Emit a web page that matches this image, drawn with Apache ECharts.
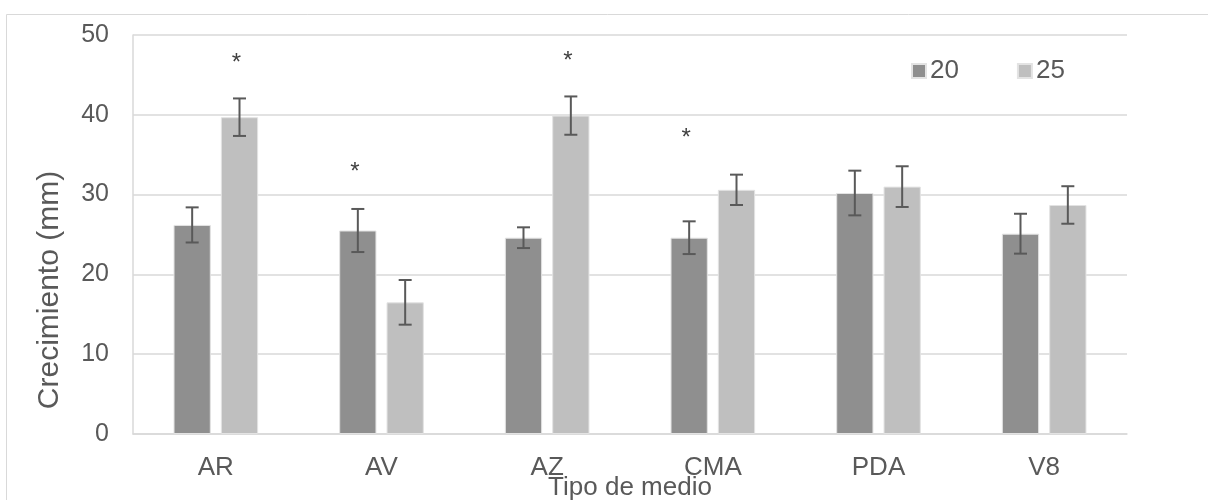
<!DOCTYPE html>
<html>
<head>
<meta charset="utf-8">
<script src="https://cdn.jsdelivr.net/npm/echarts@6/dist/echarts.min.js"></script>
<style>html,body{margin:0;padding:0;background:#fff;}#c{width:1208px;height:500px;}</style>
</head>
<body>
<div id="c"></div>
<script>
var categories = ['AR', 'AV', 'AZ', 'CMA', 'PDA', 'V8'];
var seriesNames = ['20', '25'];
var values20 = [26.2, 25.5, 24.6, 24.6, 30.2, 25.1];
var values25 = [39.7, 16.5, 39.9, 30.6, 31.0, 28.7];
var err20 = [2.2, 2.7, 1.3, 2.05, 2.8, 2.5];
var err25 = [2.35, 2.8, 2.4, 1.9, 2.55, 2.35];
var star20 = [null, 32.8, null, 37.0, null, null];
var star25 = [46.4, null, 46.7, null, null, null];
var yTicks = [0, 10, 20, 30, 40, 50];
var yTitle = 'Crecimiento (mm)';
var xTitle = 'Tipo de medio';

var FONT = 'Liberation Sans';
var TXT = '#595959';
var BAR_W = 0.225, BAR_GAP = 0.27;

function errData(vals, errs, stars) {
  return vals.map(function (v, i) { return [i, v, errs[i], stars[i] == null ? NaN : stars[i]]; });
}
function makeRender(side) {
  return function (params, api) {
    var i = api.value(0), v = api.value(1), e = api.value(2), s = api.value(3);
    var band = api.size([1, 0])[0];
    var off = side * band * BAR_W * (1 + BAR_GAP) / 2;
    var top = api.coord([i, v + e]);
    var bot = api.coord([i, v - e]);
    var x = top[0] + off;
    var cap = 6.5;
    var st = { stroke: '#595959', lineWidth: 2 };
    var children = [
      { type: 'line', shape: { x1: x, y1: top[1], x2: x, y2: bot[1] }, style: st },
      { type: 'line', shape: { x1: x - cap, y1: top[1], x2: x + cap, y2: top[1] }, style: st },
      { type: 'line', shape: { x1: x - cap, y1: bot[1], x2: x + cap, y2: bot[1] }, style: st }
    ];
    if (!isNaN(s)) {
      var sp = api.coord([i, s]);
      children.push({ type: 'text', style: { x: x - 3, y: sp[1], text: '*', fill: '#404040', font: '24px ' + FONT, align: 'center', verticalAlign: 'middle' } });
    }
    return { type: 'group', children: children };
  };
}

var chart = echarts.init(document.getElementById('c'));
chart.setOption({
  animation: false,
  textStyle: { fontFamily: FONT },
  graphic: [
    { type: 'rect', shape: { x: 6.5, y: 14.5, width: 1300, height: 600 }, style: { fill: 'none', stroke: '#d9d9d9', lineWidth: 1 }, z: -10 },
    { type: 'text', x: 50, y: 290, rotation: Math.PI / 2, style: { text: yTitle, fill: TXT, font: '30px ' + FONT, align: 'center', verticalAlign: 'middle' } }
  ],
  grid: { left: 133, right: 81, top: 35, bottom: 66, containLabel: false, outerBoundsMode: 'none' },
  legend: {
    data: seriesNames, left: 906, top: 53, itemWidth: 14, itemHeight: 14, itemGap: 58, icon: 'rect',
    textStyle: { fontSize: 26, color: TXT, fontFamily: FONT, padding: [0, 0, 0, -1] }
  },
  xAxis: {
    type: 'category', data: categories,
    name: xTitle, nameLocation: 'middle', nameGap: 41, nameMoveOverlap: false,
    nameTextStyle: { fontSize: 26, color: TXT, fontFamily: FONT },
    axisLine: { lineStyle: { color: '#d9d9d9', width: 1.5 } },
    axisTick: { show: false },
    axisLabel: { fontSize: 26, color: TXT, margin: 21, fontFamily: FONT }
  },
  yAxis: {
    type: 'value', min: yTicks[0], max: yTicks[yTicks.length - 1], interval: 10,
    axisLine: { show: true, lineStyle: { color: '#d9d9d9', width: 1.5 } },
    axisTick: { show: false },
    splitLine: { lineStyle: { color: '#d9d9d9', width: 1.5 } },
    axisLabel: { fontSize: 25, color: TXT, margin: 24, fontFamily: FONT }
  },
  series: [
    { name: seriesNames[0], type: 'bar', data: values20, barWidth: (BAR_W * 100) + '%', barGap: (BAR_GAP * 100) + '%',
      itemStyle: { color: '#8f8f8f', borderColor: '#e3e3e3', borderWidth: 1 } },
    { name: seriesNames[1], type: 'bar', data: values25, barWidth: (BAR_W * 100) + '%',
      itemStyle: { color: '#bfbfbf', borderColor: '#e3e3e3', borderWidth: 1 } },
    { type: 'custom', renderItem: makeRender(-1), data: errData(values20, err20, star20), z: 10,
      encode: { x: 0, y: 1 } },
    { type: 'custom', renderItem: makeRender(1), data: errData(values25, err25, star25), z: 10,
      encode: { x: 0, y: 1 } }
  ]
});
</script>
</body>
</html>
